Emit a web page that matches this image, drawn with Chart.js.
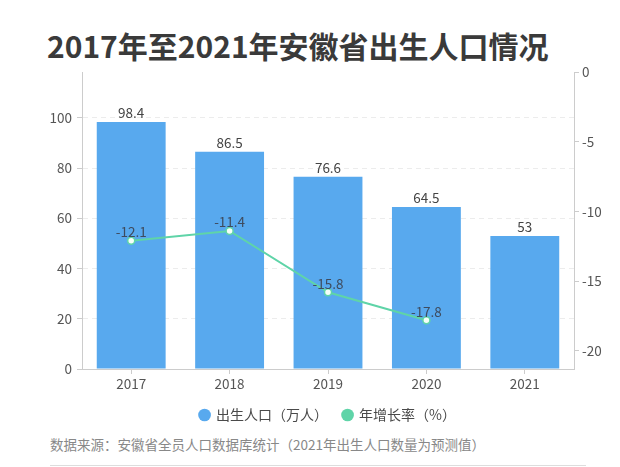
<!DOCTYPE html>
<html><head><meta charset="utf-8">
<script src="https://cdn.jsdelivr.net/npm/chart.js@4/dist/chart.umd.min.js"></script>
<style>
html,body{margin:0;padding:0;background:#fff;width:620px;height:467px;overflow:hidden;font-family:"Noto Sans CJK SC","Noto Sans",sans-serif;}
#title{position:absolute;left:47px;top:25px;font-size:30px;font-weight:bold;color:#3a3a3a;white-space:nowrap;line-height:40px;}
#wrap{position:absolute;left:0;top:0;width:620px;height:432px;}
#src{position:absolute;left:50px;top:434px;font-size:13.5px;color:#888;white-space:nowrap;line-height:20px;}
#rule{position:absolute;left:50px;top:465px;width:536px;height:1px;background:#ddd;}
</style></head>
<body>
<div id="title">2017年至2021年安徽省出生人口情况</div>
<div id="wrap"><canvas id="c"></canvas></div>
<div id="src">数据来源：安徽省全员人口数据库统计（2021年出生人口数量为预测值）</div>
<div id="rule"></div>
<script>
const years = ['2017','2018','2019','2020','2021'];
const births = [98.4, 86.5, 76.6, 64.5, 53];
const growth = [-12.1, -11.4, -15.8, -17.8, null];
const leftTicks = [0, 20, 40, 60, 80, 100];
const rightTicks = [0, -5, -10, -15, -20];

const BLUE = '#58a9ee';
const GREEN = '#5fd4a8';
const FONT = '"Noto Sans CJK SC","Noto Sans",sans-serif';

const labelPlugin = {
  id: 'vals',
  afterDatasetsDraw(chart) {
    const ctx = chart.ctx;
    ctx.save();
    ctx.font = '13.5px ' + FONT;
    ctx.textAlign = 'center';
    ctx.textBaseline = 'bottom';
    chart.data.datasets.forEach((ds, i) => {
      const meta = chart.getDatasetMeta(i);
      meta.data.forEach((el, j) => {
        const v = ds.data[j];
        if (v === null || v === undefined) return;
        const isLine = ds.type === 'line';
        ctx.fillStyle = isLine ? '#3e4b5e' : '#444';
        ctx.fillText(String(v), el.x, el.y - 2);
      });
    });
    ctx.restore();
  }
};

new Chart(document.getElementById('c'), {
  data: {
    labels: years,
    datasets: [
      { type: 'bar', label: '出生人口（万人）', data: births, backgroundColor: BLUE, yAxisID: 'y',
        categoryPercentage: 0.7, barPercentage: 1, order: 2 },
      { type: 'line', label: '年增长率（%）', data: growth, yAxisID: 'y1', borderColor: GREEN, borderWidth: 2,
        pointBackgroundColor: '#f4fffa', pointBorderColor: GREEN, pointBorderWidth: 1.5, pointRadius: 3.5,
        spanGaps: false, tension: 0, order: 1 }
    ]
  },
  options: {
    responsive: true, maintainAspectRatio: false, animation: false,
    layout: { padding: { top: 72, left: 0, right: 0, bottom: 0 } },
    plugins: {
      title: { display: false },
      tooltip: { enabled: false },
      legend: {
        position: 'bottom', fullSize: false,
        labels: {
          usePointStyle: true, pointStyle: 'circle', boxWidth: 9, boxHeight: 9, padding: 15,
          color: '#4a4a4a', font: { size: 14, family: '"Noto Sans CJK SC"' },
          generateLabels(chart) {
            const items = Chart.defaults.plugins.legend.labels.generateLabels(chart);
            const cols = [BLUE, GREEN];
            items.forEach(it => { const c = cols[it.datasetIndex]; it.fillStyle = c; it.strokeStyle = c; it.lineWidth = 0; it.pointStyle = 'circle'; });
            items.sort((a, b) => a.datasetIndex - b.datasetIndex);
            return items;
          }
        }
      }
    },
    scales: {
      x: {
        offset: true,
        grid: { offset: false, drawOnChartArea: false, drawTicks: true, tickLength: 5, tickColor: '#ccc' },
        border: { display: true, color: '#ccc' },
        ticks: { color: '#555', font: { size: 13.5, family: FONT }, padding: 2 },
        afterFit(s) { s.height = 24; }
      },
      y: {
        position: 'left', min: 0, max: 118.3,
        afterBuildTicks(s) { s.ticks = leftTicks.map(v => ({ value: v })); },
        grid: { color: '#ececec', drawTicks: true, tickLength: 5, tickColor: '#ccc' },
        border: { display: true, color: '#ccc', dash: [5, 4] },
        ticks: { color: '#555', font: { size: 13.5, family: FONT }, padding: 5 },
        afterFit(s) { s.width = 82; }
      },
      y1: {
        position: 'right', min: -21.3, max: 0,
        afterBuildTicks(s) { s.ticks = rightTicks.map(v => ({ value: v })); },
        grid: { drawOnChartArea: false, drawTicks: true, tickLength: 5, tickColor: '#ccc' },
        border: { display: true, color: '#ccc' },
        ticks: { color: '#555', font: { size: 13.5, family: FONT }, padding: 3 },
        afterFit(s) { s.width = 46; }
      }
    }
  },
  plugins: [labelPlugin]
});
</script>
</body></html>
